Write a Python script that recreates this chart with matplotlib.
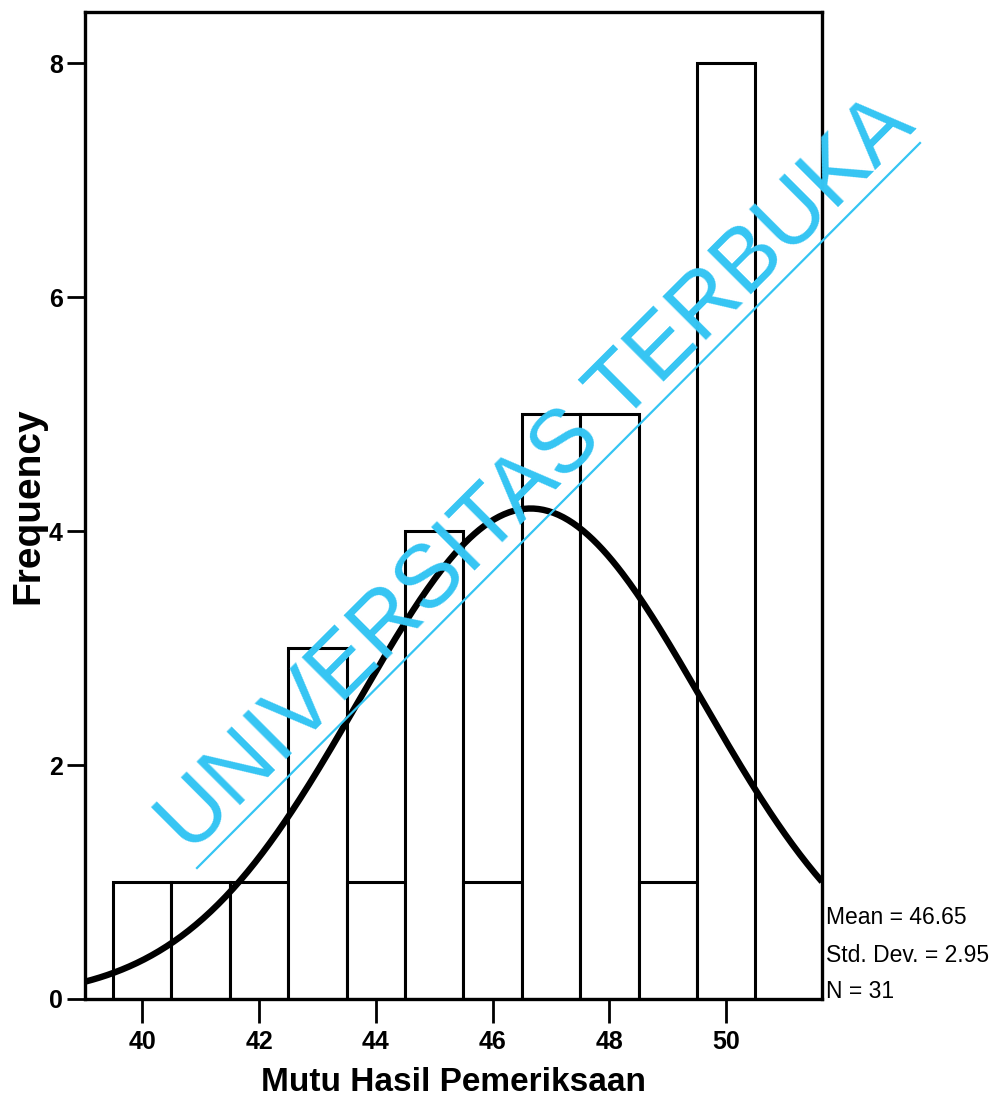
import numpy as np
import matplotlib.pyplot as plt
from matplotlib.lines import Line2D

# histogram values
scores = [40, 41, 42, 43, 44, 45, 46, 47, 48, 49, 50]
freq = [1, 1, 1, 3, 1, 4, 1, 5, 5, 1, 8]
meanVal = 46.65
stdVal = 2.95
nVal = 31
xTicks = [40, 42, 44, 46, 48, 50]
yTicks = [0, 2, 4, 6, 8]

arial = ['Liberation Sans', 'DejaVu Sans']


def main():
    W, H = 1003, 1112
    fig = plt.figure(figsize=(W / 100, H / 100), dpi=100)
    ax = fig.add_axes([85 / W, 1 - 999 / H, (822 - 85) / W, (999 - 12) / H])

    ax.bar(scores, freq, width=1.0, facecolor='white', edgecolor='black', linewidth=2.2, zorder=2)

    # fitted normal curve (from mean / sd / N, bin width 1)
    xs = np.linspace(39.02, 51.64, 300)
    ys = nVal / (stdVal * np.sqrt(2 * np.pi)) * np.exp(-0.5 * ((xs - meanVal) / stdVal) ** 2)
    ax.plot(xs, ys, color='black', linewidth=4.6, zorder=3, solid_capstyle='butt')

    ax.set_xlim(39.02, 51.64)
    ax.set_ylim(0, 8.436)
    ax.set_xticks(xTicks)
    ax.set_yticks(yTicks)
    ax.set_xticklabels([str(v) for v in xTicks], family=arial, fontweight='bold', fontsize=18)
    ax.set_yticklabels([str(v) for v in yTicks], family=arial, fontweight='bold', fontsize=18)
    ax.tick_params(axis='x', direction='out', length=17, width=2, pad=5)
    ax.tick_params(axis='y', direction='out', length=13, width=2, pad=3)
    for sp in ax.spines.values():
        sp.set_linewidth(2.4)

    #Cosmetics
    ax.set_xlabel('Mutu Hasil Pemeriksaan', family=arial, fontweight='bold', fontsize=24, labelpad=10)
    ax.set_ylabel('Frequency', family=arial, fontweight='bold', fontsize=28)
    ax.yaxis.set_label_coords(-0.052, 0.5)

    statLines = ['Mean = %.2f' % meanVal, 'Std. Dev. = %.2f' % stdVal, 'N = %d' % nVal]
    for i, s in enumerate(statLines):
        fig.text(826 / W, 1 - (918 + 37 * i) / H, s, family=arial, fontsize=16.5,
                 ha='left', va='center')

    # watermark
    wm = '#35c5f3'
    fig.text(190 / W, 1 - 855 / H, 'UNIVERSITAS TERBUKA', family=arial,
             fontsize=64, color=wm, rotation=45, rotation_mode='anchor',
             ha='left', va='baseline', zorder=10)
    fig.add_artist(Line2D([197 / W, 920 / W], [1 - 868 / H, 1 - 143 / H], color=wm,
                          linewidth=1.6, transform=fig.transFigure, zorder=10))

    fig.savefig('out.png', dpi=100)


if __name__ == "__main__":
    main()
